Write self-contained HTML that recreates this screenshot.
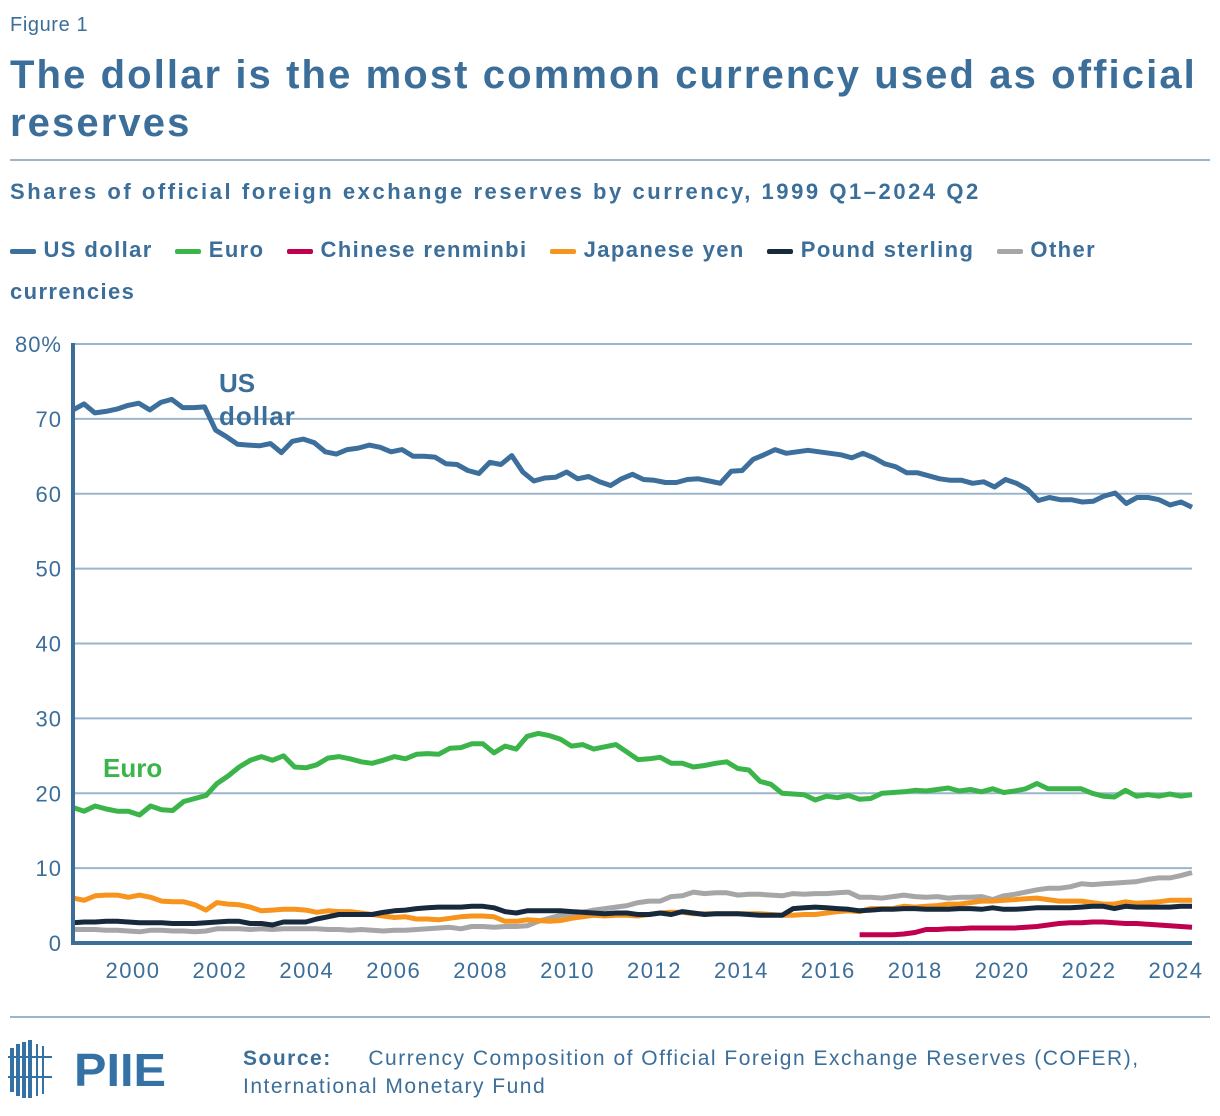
<!DOCTYPE html>
<html><head><meta charset="utf-8"><style>
body{margin:0;background:#fff;width:1220px;height:1116px;overflow:hidden;font-family:"Liberation Sans",sans-serif;color:#3c6e9a;position:relative}
.abs{position:absolute}
</style></head><body>
<div class="abs" style="left:10px;top:14px;font-size:20px;letter-spacing:0.6px">Figure 1</div>
<div class="abs" style="left:10px;top:51px;font-size:40px;font-weight:bold;line-height:48px;width:1205px;letter-spacing:2.1px">The dollar is the most common currency used as official reserves</div>
<div class="abs" style="left:10px;top:159px;width:1200px;height:2px;background:#9bb6cc"></div>
<div class="abs" style="left:10px;top:179px;font-size:22px;font-weight:bold;letter-spacing:2.55px">Shares of official foreign exchange reserves by currency, 1999 Q1–2024 Q2</div>
<div class="abs" style="left:10px;top:229px;font-size:22px;font-weight:bold;line-height:42px;width:1150px;letter-spacing:1.4px">
<span><span style="display:inline-block;width:26px;height:5px;background:#3d6f9c;vertical-align:middle;border-radius:2px"></span> US dollar</span>&nbsp;&nbsp;
<span><span style="display:inline-block;width:26px;height:5px;background:#3bb54a;vertical-align:middle;border-radius:2px"></span> Euro</span>&nbsp;&nbsp;
<span><span style="display:inline-block;width:26px;height:5px;background:#c0004f;vertical-align:middle;border-radius:2px"></span> Chinese renminbi</span>&nbsp;&nbsp;
<span><span style="display:inline-block;width:26px;height:5px;background:#f7941d;vertical-align:middle;border-radius:2px"></span> Japanese yen</span>&nbsp;&nbsp;
<span><span style="display:inline-block;width:26px;height:5px;background:#17293c;vertical-align:middle;border-radius:2px"></span> Pound sterling</span>&nbsp;&nbsp;
<span><span style="display:inline-block;width:26px;height:5px;background:#a6a6a6;vertical-align:middle;border-radius:2px"></span> Other currencies</span>
</div>
<svg class="abs" style="left:0;top:0" width="1220" height="1116" id="chart"></svg>
<div class="abs" style="left:10px;top:1016px;width:1200px;height:2px;background:#9bb6cc"></div>
<svg class="abs" style="left:8px;top:1036px" width="170" height="70">
<g fill="#3471a4"><rect x="2" y="12" width="4" height="44"/><rect x="8" y="8" width="4" height="52"/><rect x="14" y="6" width="4" height="56"/><rect x="20" y="4" width="4" height="58"/><rect x="28" y="8" width="2" height="52"/><rect x="34" y="10" width="2" height="48"/><rect x="0" y="20" width="44" height="2"/><rect x="0" y="40" width="44" height="2"/>
<text x="66" y="50" font-size="46" font-weight="bold" font-family="Liberation Sans" fill="#3471a4" textLength="92" lengthAdjust="spacingAndGlyphs">PIIE</text></g></svg>
<div class="abs" style="left:243px;top:1045px;font-size:21px;line-height:28px;color:#3c6e9a;letter-spacing:1.5px"><b>Source:</b>&nbsp;&nbsp;&nbsp;&nbsp; Currency Composition of Official Foreign Exchange Reserves (COFER),<br>International Monetary Fund</div>
<script>
const usd=[71.2,72.0,70.8,71.0,71.3,71.8,72.1,71.2,72.2,72.6,71.5,71.5,71.6,68.5,67.6,66.6,66.5,66.4,66.7,65.5,67.0,67.3,66.8,65.6,65.3,65.9,66.1,66.5,66.2,65.6,65.9,65.0,65.0,64.9,64.0,63.9,63.1,62.7,64.2,63.9,65.1,62.9,61.7,62.1,62.2,62.9,62.0,62.3,61.6,61.1,62.0,62.6,61.9,61.8,61.5,61.5,61.9,62.0,61.7,61.4,63.0,63.1,64.6,65.2,65.9,65.4,65.6,65.8,65.6,65.4,65.2,64.8,65.4,64.8,64.0,63.6,62.8,62.8,62.4,62.0,61.8,61.8,61.4,61.6,60.9,61.9,61.4,60.6,59.1,59.5,59.2,59.2,58.9,59.0,59.7,60.1,58.7,59.5,59.5,59.2,58.5,58.9,58.2];
const euro=[18.1,17.6,18.3,17.9,17.6,17.6,17.1,18.3,17.8,17.7,18.9,19.3,19.7,21.3,22.3,23.5,24.4,24.9,24.4,25.0,23.5,23.4,23.8,24.7,24.9,24.6,24.2,24.0,24.4,24.9,24.6,25.2,25.3,25.2,26.0,26.1,26.6,26.6,25.4,26.3,25.9,27.6,28.0,27.7,27.2,26.3,26.5,25.9,26.2,26.5,25.5,24.5,24.6,24.8,24.0,24.0,23.5,23.7,24.0,24.2,23.3,23.1,21.6,21.2,20.0,19.9,19.8,19.1,19.6,19.4,19.7,19.2,19.3,20.0,20.1,20.2,20.4,20.3,20.5,20.7,20.3,20.5,20.2,20.6,20.1,20.3,20.6,21.3,20.6,20.6,20.6,20.6,20.0,19.6,19.5,20.4,19.6,19.8,19.6,19.9,19.6,19.8];
const yen=[6.0,5.7,6.3,6.4,6.4,6.1,6.4,6.1,5.6,5.5,5.5,5.1,4.4,5.4,5.2,5.1,4.8,4.3,4.4,4.5,4.5,4.4,4.1,4.3,4.2,4.2,4.0,3.8,3.6,3.4,3.5,3.2,3.2,3.1,3.3,3.5,3.6,3.6,3.5,2.9,2.9,3.1,3.0,2.9,3.0,3.3,3.5,3.7,3.6,3.7,3.7,3.6,3.8,4.0,4.1,4.1,3.9,3.9,3.9,3.9,3.9,3.9,3.9,3.8,3.7,3.7,3.8,3.8,4.0,4.2,4.3,4.2,4.6,4.6,4.6,4.9,4.8,4.9,5.0,5.2,5.2,5.4,5.6,5.6,5.7,5.8,5.9,6.0,5.8,5.6,5.6,5.6,5.4,5.2,5.2,5.5,5.3,5.4,5.5,5.7,5.7,5.7];
const gbp=[2.7,2.8,2.8,2.9,2.9,2.8,2.7,2.7,2.7,2.6,2.6,2.6,2.7,2.8,2.9,2.9,2.6,2.6,2.4,2.8,2.8,2.8,3.2,3.5,3.8,3.8,3.8,3.8,4.1,4.3,4.4,4.6,4.7,4.8,4.8,4.8,4.9,4.9,4.7,4.2,4.0,4.3,4.3,4.3,4.3,4.2,4.1,4.0,3.9,4.0,4.0,3.8,3.8,4.0,3.8,4.2,4.0,3.8,3.9,3.9,3.9,3.8,3.7,3.7,3.7,4.6,4.7,4.8,4.7,4.6,4.5,4.3,4.4,4.5,4.5,4.6,4.6,4.5,4.5,4.5,4.6,4.6,4.5,4.7,4.5,4.5,4.6,4.7,4.7,4.7,4.7,4.8,4.9,4.9,4.6,4.9,4.8,4.8,4.8,4.8,4.9,4.9];
const other=[1.8,1.8,1.8,1.7,1.7,1.6,1.5,1.7,1.7,1.6,1.6,1.5,1.6,1.9,1.9,1.9,1.8,1.9,1.8,1.9,1.9,1.9,1.9,1.8,1.8,1.7,1.8,1.7,1.6,1.7,1.7,1.8,1.9,2.0,2.1,1.9,2.2,2.2,2.1,2.2,2.2,2.3,2.9,3.3,3.7,3.9,4.1,4.4,4.6,4.8,5.0,5.4,5.6,5.6,6.2,6.3,6.8,6.6,6.7,6.7,6.4,6.5,6.5,6.4,6.3,6.6,6.5,6.6,6.6,6.7,6.8,6.1,6.1,6.0,6.2,6.4,6.2,6.1,6.2,6.0,6.1,6.1,6.2,5.8,6.3,6.5,6.8,7.1,7.3,7.3,7.5,7.9,7.8,7.9,8.0,8.1,8.2,8.5,8.7,8.7,9.0,9.4];
const rmbStart=71;
const rmb=[1.1,1.1,1.1,1.1,1.2,1.4,1.8,1.8,1.9,1.9,2.0,2.0,2.0,2.0,2.0,2.1,2.2,2.4,2.6,2.7,2.7,2.8,2.8,2.7,2.6,2.6,2.5,2.4,2.3,2.2,2.1];
const yTicks=[0,10,20,30,40,50,60,70,80];
const xYears=[2000,2002,2004,2006,2008,2010,2012,2014,2016,2018,2020,2022,2024];
const NS='http://www.w3.org/2000/svg';
const svg=document.getElementById('chart');
const X0=73,X1=1192,Y0=943,Y80=344;
function span(arr,start){return (X1-X0)/(arr.length-1+start);}
const y=v=>Y0-(Y0-Y80)*v/80;
const xYear=yr=>133+(yr-2000)*(1176-133)/24;
function mk(t,a){const e=document.createElementNS(NS,t);for(const k in a)e.setAttribute(k,a[k]);svg.appendChild(e);return e;}
yTicks.forEach(v=>{
 if(v>0){const g=mk('line',{x1:X0,x2:X1,y1:y(v),y2:y(v),stroke:'#9bb6cc','stroke-width':2});
 
 }
 const t=mk('text',{x:62,y:y(v)+8,'text-anchor':'end','font-size':22,fill:'#3c6e9a','font-family':'Liberation Sans','letter-spacing':1});
 
 
 t.textContent=v===80?'80%':v;
});
xYears.forEach(yr=>{
 const t=mk('text',{x:xYear(yr),y:978,'text-anchor':'middle','font-size':22,fill:'#3c6e9a','font-family':'Liberation Sans','letter-spacing':1.5});
 
 
 t.textContent=yr;
});
function line(arr,start,color,name){
 const step=span(arr,start);
 const pts=arr.map((v,i)=>(X0+step*(i+start)).toFixed(1)+','+y(v).toFixed(1)).join(' ');
 const p=mk('polyline',{points:pts,fill:'none',stroke:color,'stroke-width':5,'stroke-linejoin':'round'});
 
 
}
line(other,0,'#a6a6a6','line-other');
line(yen,0,'#f7941d','line-yen');
line(gbp,0,'#17293c','line-pound');
line(rmb,rmbStart,'#c0004f','line-renminbi');
line(euro,0,'#3bb54a','line-euro');
line(usd,0,'#3d6f9c','line-us-dollar');
const ax=mk('polyline',{points:`${X0},${Y80-1} ${X0},${Y0} ${X1},${Y0}`,fill:'none',stroke:'#3c6e9a','stroke-width':4});


const l1=mk('text',{x:219,y:392,'font-size':26,'font-weight':'bold',fill:'#3c6e9a','font-family':'Liberation Sans'});


l1.textContent='US';
const l2=mk('text',{x:219,y:425,'font-size':26,'font-weight':'bold',fill:'#3c6e9a','font-family':'Liberation Sans','letter-spacing':1});


l2.textContent='dollar';
const l3=mk('text',{x:103,y:777,'font-size':26,'font-weight':'bold',fill:'#3bb54a','font-family':'Liberation Sans'});


l3.textContent='Euro';
</script>
</body></html>
